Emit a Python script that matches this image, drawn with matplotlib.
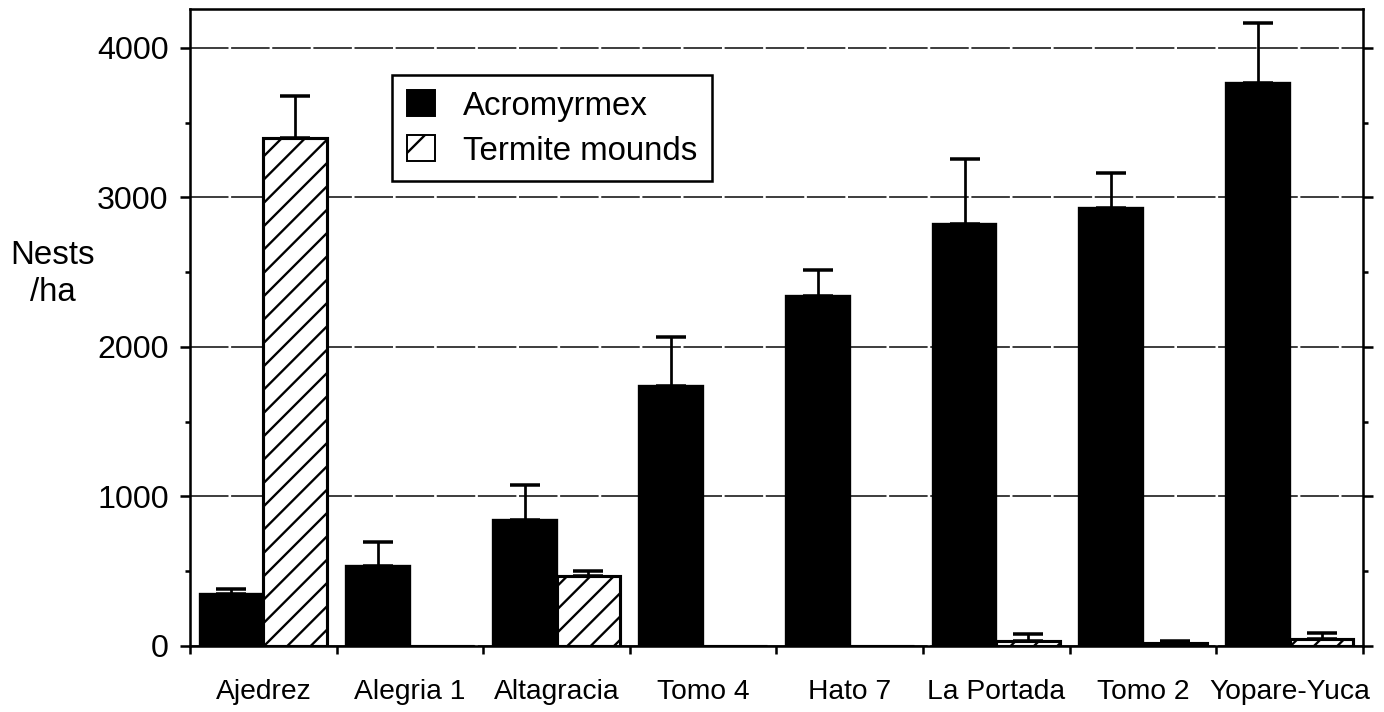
import numpy as np
import matplotlib.pyplot as plt
from matplotlib.patches import Patch
from matplotlib.ticker import MultipleLocator, FixedLocator, NullFormatter

plt.rcParams['font.family'] = ['Liberation Sans', 'DejaVu Sans']
plt.rcParams['hatch.linewidth'] = 1.2

sites = ['Ajedrez', 'Alegria 1', 'Altagracia', 'Tomo 4', 'Hato 7',
         'La Portada', 'Tomo 2', 'Yopare-Yuca']
acro = [350, 535, 845, 1740, 2340, 2825, 2930, 3765]
acro_err = [30, 160, 232, 328, 176, 430, 234, 400]
termite = [3400, 0, 470, 0, 0, 35, 20, 45]
termite_err = [280, 0, 34, 0, 0, 45, 15, 40]

DPI = 140
fig = plt.figure(figsize=(1384 / DPI, 712 / DPI), dpi=DPI)
ax = fig.add_axes([0.1373, 0.0927, 0.8475, 0.8947])

x = np.arange(len(sites)) + 0.5
w = 0.435

ax.bar(x - w / 2, acro, w, color='black', edgecolor='black', linewidth=1.2, zorder=3)
ax.bar(x + w / 2, termite, w, color='white', edgecolor='black', linewidth=1.6,
       hatch='//', zorder=3)

acro = np.array(acro)
termite = np.array(termite)
m = termite > 0
ax.errorbar(x - w / 2, acro, yerr=[np.zeros(len(acro)), acro_err], fmt='none',
            ecolor='black', elinewidth=1.4, capsize=7.5, capthick=1.8, zorder=2)
ax.errorbar((x + w / 2)[m], termite[m],
            yerr=[np.zeros(m.sum()), np.array(termite_err)[m]], fmt='none',
            ecolor='black', elinewidth=1.4, capsize=7.5, capthick=1.8, zorder=2)

ax.set_xlim(0, 8)
ax.set_ylim(0, 4260)

# y axis ticks on both sides
ax.yaxis.set_major_locator(MultipleLocator(1000))
ax.yaxis.set_minor_locator(MultipleLocator(500))
ax.tick_params(axis='y', which='both', direction='out', left=True, right=True,
               width=1.3, labelsize=16.5, pad=6)
ax.tick_params(axis='y', which='major', length=5)
ax.tick_params(axis='y', which='minor', length=2.5)

# x axis: ticks at group boundaries, labels at group centres
ax.xaxis.set_major_locator(FixedLocator(np.arange(0, 9)))
ax.xaxis.set_major_formatter(NullFormatter())
ax.xaxis.set_minor_locator(FixedLocator(x))
ax.set_xticklabels(sites, minor=True)
ax.tick_params(axis='x', which='major', direction='out', length=4, width=1.3)
ax.tick_params(axis='x', which='minor', length=0, labelsize=14.5, pad=17)

for s in ax.spines.values():
    s.set_linewidth(1.3)
    s.set_color('black')

ax.grid(axis='y', which='major', color='0.15', linewidth=0.9,
        linestyle=(0, (22, 1.5)), zorder=0)
ax.set_axisbelow(True)

fig.text(0.038, 0.615, 'Nests\n/ha', ha='center', va='center', fontsize=17,
         linespacing=1.25)

handles = [Patch(facecolor='black', edgecolor='black'),
           Patch(facecolor='white', edgecolor='black', hatch='/')]
leg = ax.legend(handles, ['Acromyrmex', 'Termite mounds'], loc='upper left',
                bbox_to_anchor=(0.172, 0.896), borderaxespad=0, fontsize=17,
                fancybox=False, framealpha=1, edgecolor='black',
                handlelength=0.85, handleheight=0.85, handletextpad=0.85,
                labelspacing=0.4, borderpad=0.45)
leg.get_frame().set_linewidth(1.3)

fig.savefig('out.png', dpi=DPI)
